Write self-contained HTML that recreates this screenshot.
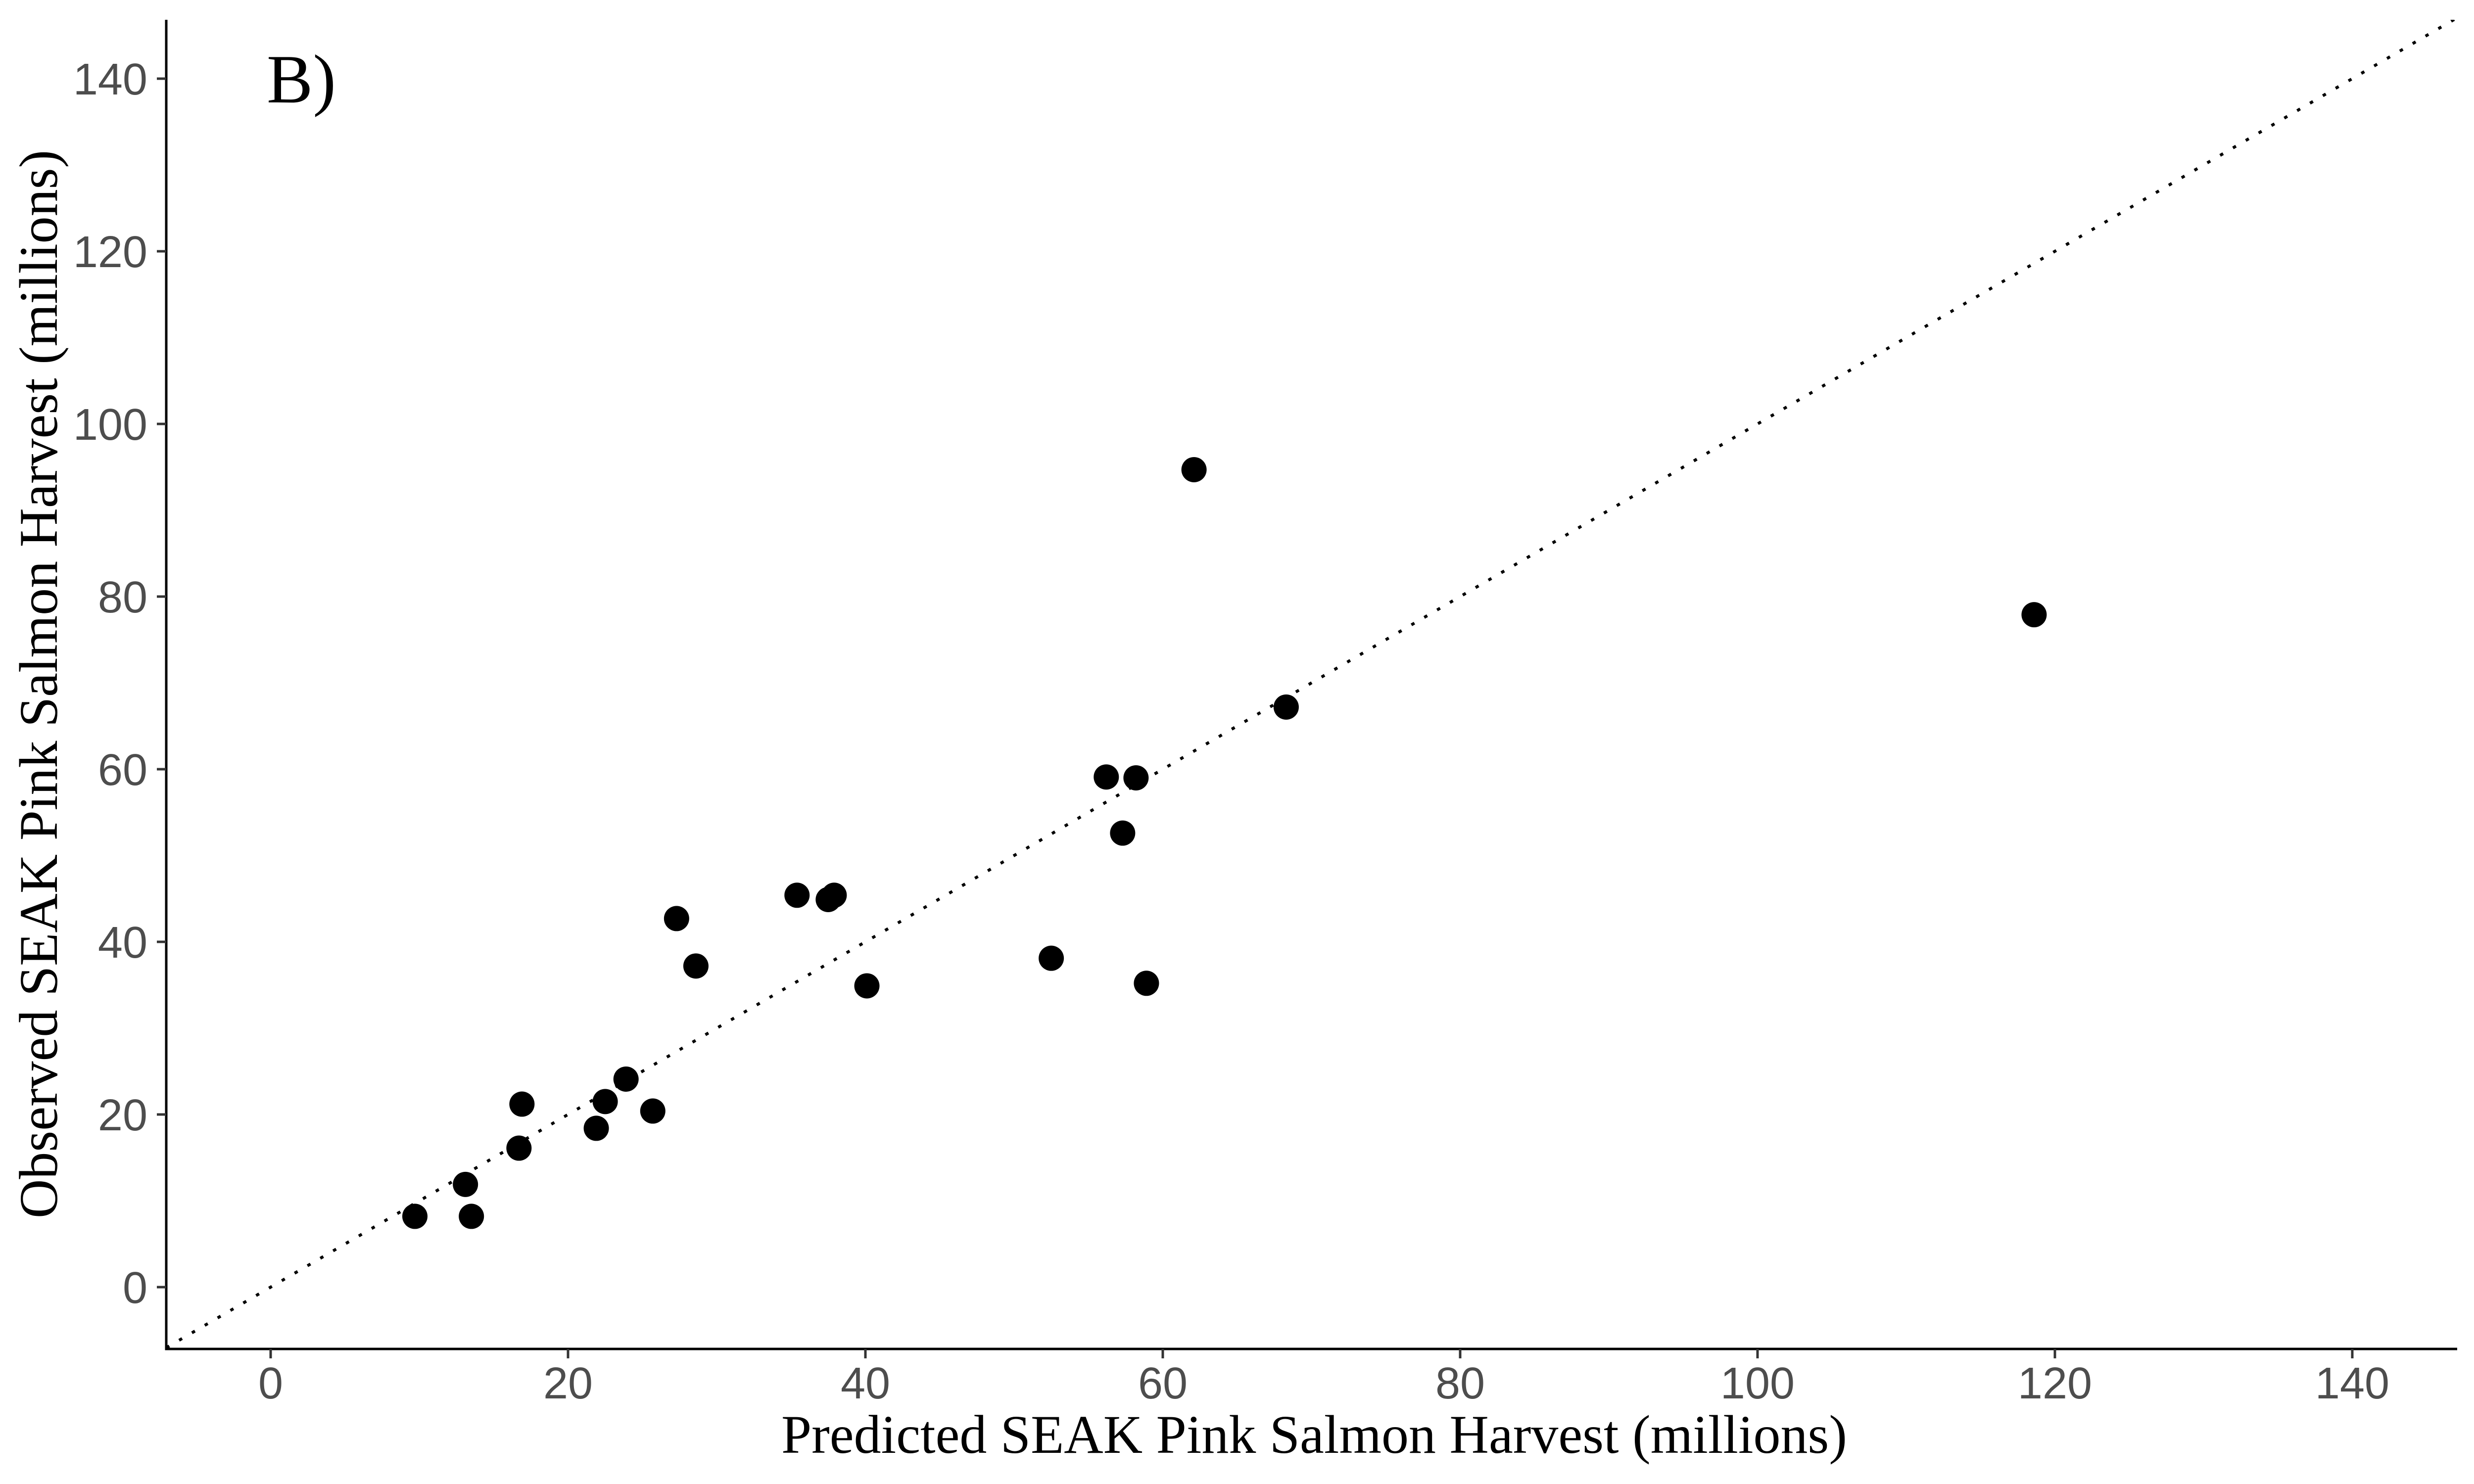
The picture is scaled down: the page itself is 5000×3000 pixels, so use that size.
<!DOCTYPE html>
<html><head><meta charset="utf-8"><style>
html,body{margin:0;padding:0;background:#fff;}
svg{display:block;}
</style></head><body>
<svg id="chart" width="5000" height="3000" viewBox="0 0 5000 3000" xmlns="http://www.w3.org/2000/svg">
<rect x="0" y="0" width="5000" height="3000" fill="#fff"/>
<g id="marks"></g>
<g id="axes"></g>
<text x="539" y="207" font-family="Liberation Serif, serif" font-size="140" fill="#000">B)</text>
<text x="2656" y="2937" text-anchor="middle" font-family="Liberation Serif, serif" font-size="110" fill="#000">Predicted SEAK Pink Salmon Harvest (millions)</text>
<text transform="translate(115,1383) rotate(-90)" text-anchor="middle" font-family="Liberation Serif, serif" font-size="110" fill="#000">Observed SEAK Pink Salmon Harvest (millions)</text>
</svg>
<script>
const predicted = [9.7,13.1,13.5,16.7,16.9,21.9,22.5,23.9,25.7,27.3,28.6,35.4,37.5,37.9,40.1,52.5,56.2,57.3,58.2,58.9,62.1,68.3,118.6];
const observed  = [8.2,11.9,8.2,16.1,21.2,18.4,21.5,24.1,20.4,42.7,37.2,45.4,44.9,45.4,34.9,38.1,59.1,52.6,59.0,35.2,94.7,67.2,77.9];
const xTicks = [0,20,40,60,80,100,120,140];
const yTicks = [0,20,40,60,80,100,120,140];

(function(){
const NS = 'http://www.w3.org/2000/svg';
const pLeft = 336, pRight = 4966, pTop = 40, pBottom = 2727;
const sx = v => 547 + v * 30.05;
const sy = v => 2602 - v * 17.45;
const marks = document.getElementById('marks');
const axes = document.getElementById('axes');
function mk(tag, attrs, parent){ const e = document.createElementNS(NS, tag); for (const k in attrs) e.setAttribute(k, attrs[k]); parent.appendChild(e); return e; }

const defs = mk('defs', {}, marks);
const cp = mk('clipPath', {id:'clip'}, defs);
mk('rect', {x:pLeft, y:pTop, width:pRight-pLeft, height:pBottom-pTop}, cp);

const xmin = (pLeft-547)/30.05, xmax = (pRight-547)/30.05;
const idLine = mk('line', {x1:sx(xmin), y1:sy(xmin), x2:sx(xmax), y2:sy(xmax), stroke:'#000', 'stroke-width':6, 'stroke-dasharray':'7 23', 'clip-path':'url(#clip)'}, marks);



predicted.forEach((p, i) => {
  const c = mk('circle', {cx:sx(p), cy:sy(observed[i]), r:25.5, fill:'#000'}, marks);
  
  
});

const yl = mk('line', {x1:pLeft, y1:pTop, x2:pLeft, y2:pBottom+2.5, stroke:'#000', 'stroke-width':5}, axes);


const xl = mk('line', {x1:pLeft-2.5, y1:pBottom, x2:pRight, y2:pBottom, stroke:'#000', 'stroke-width':5}, axes);



xTicks.forEach(t => {
  const tk = mk('line', {x1:sx(t), y1:pBottom, x2:sx(t), y2:pBottom+19, stroke:'#333', 'stroke-width':5}, axes);
  
  
  const tx = mk('text', {x:sx(t), y:2827, 'text-anchor':'middle', 'font-family':'Liberation Sans, sans-serif', 'font-size':90, fill:'#4d4d4d'}, axes);
  tx.textContent = t;
  
  
});
yTicks.forEach(t => {
  const tk = mk('line', {x1:pLeft-19, y1:sy(t), x2:pLeft, y2:sy(t), stroke:'#333', 'stroke-width':5}, axes);
  
  
  const tx = mk('text', {x:298, y:sy(t)+32, 'text-anchor':'end', 'font-family':'Liberation Sans, sans-serif', 'font-size':90, fill:'#4d4d4d'}, axes);
  tx.textContent = t;
  
  
});
})();
</script>
</body></html>
